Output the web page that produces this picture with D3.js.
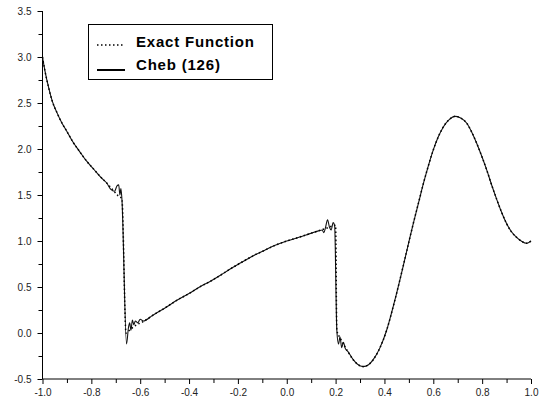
<!DOCTYPE html>
<html>
<head>
<meta charset="utf-8">
<script src="https://cdn.jsdelivr.net/npm/d3@7"></script>
<style>
  body { margin: 0; background: #fff; }
  svg { display: block; }
  .tick text { font-family: "Liberation Sans", Arial, sans-serif; font-size: 10px; fill: #222; }
</style>
</head>
<body>
<div id="chart"></div>
<script>
// exact function samples
const exactX = [-1.00, -0.99, -0.976, -0.96, -0.94, -0.92, -0.90, -0.874, -0.85, -0.82, -0.79, -0.76, -0.737, -0.71, -0.69, -0.675,
  -0.658, -0.64, -0.62, -0.587, -0.55, -0.50, -0.45, -0.40, -0.35, -0.314, -0.27, -0.235, -0.19, -0.137, -0.09, -0.05,
  0.00, 0.05, 0.095, 0.13, 0.163, 0.19, 0.20,
  0.205, 0.22, 0.25, 0.272, 0.29, 0.313, 0.335, 0.354, 0.38, 0.409, 0.44, 0.477, 0.50, 0.518, 0.54, 0.559, 0.58, 0.60,
  0.62, 0.641, 0.665, 0.689, 0.71, 0.737, 0.758, 0.778, 0.80, 0.819, 0.84, 0.86, 0.88, 0.90, 0.92, 0.941, 0.96, 0.982, 1.00]
const exactY = [3.00, 2.85, 2.68, 2.52, 2.39, 2.28, 2.19, 2.07, 1.98, 1.87, 1.78, 1.69, 1.63, 1.55, 1.49, 1.46,
  0.00, 0.04, 0.08, 0.125, 0.19, 0.27, 0.355, 0.43, 0.51, 0.56, 0.63, 0.69, 0.76, 0.84, 0.90, 0.95,
  1.00, 1.04, 1.08, 1.11, 1.14, 1.165, 1.17,
  0.03, -0.06, -0.20, -0.29, -0.34, -0.365, -0.345, -0.29, -0.17, 0.03, 0.33, 0.73, 0.99, 1.19, 1.42, 1.62, 1.82, 1.99,
  2.13, 2.24, 2.32, 2.355, 2.34, 2.28, 2.18, 2.06, 1.91, 1.77, 1.60, 1.45, 1.31, 1.19, 1.10, 1.04, 1.00, 0.975, 1.00]

// Chebyshev approximation (126 terms), with the ringing near the jumps
const chebX = [-1.00, -0.99, -0.976, -0.96, -0.94, -0.92, -0.90, -0.874, -0.85, -0.82, -0.79, -0.76, -0.737, -0.72, -0.705,
  -0.695, -0.688, -0.683, -0.679, -0.675,
  -0.656, -0.648, -0.643, -0.638, -0.632, -0.626, -0.62, -0.61, -0.60, -0.587, -0.55, -0.50, -0.45, -0.40, -0.35, -0.314,
  -0.27, -0.235, -0.19, -0.137, -0.09, -0.05, 0.00, 0.05, 0.095, 0.13, 0.145, 0.152, 0.158, 0.167, 0.175, 0.182, 0.19, 0.196,
  0.205, 0.212, 0.218, 0.225, 0.232, 0.24, 0.25, 0.272, 0.29, 0.313, 0.335, 0.354, 0.38, 0.409, 0.44, 0.477, 0.50, 0.518,
  0.54, 0.559, 0.58, 0.60, 0.62, 0.641, 0.665, 0.689, 0.71, 0.737, 0.758, 0.778, 0.80, 0.819, 0.84, 0.86, 0.88, 0.90,
  0.92, 0.941, 0.96, 0.982, 1.00]
const chebY = [3.00, 2.85, 2.68, 2.52, 2.39, 2.28, 2.19, 2.07, 1.98, 1.87, 1.78, 1.69, 1.63, 1.56, 1.54,
  1.60, 1.61, 1.50, 1.57, 1.46,
  -0.12, 0.06, 0.11, 0.03, 0.14, 0.09, 0.13, 0.11, 0.15, 0.13, 0.19, 0.27, 0.355, 0.43, 0.51, 0.56,
  0.63, 0.69, 0.76, 0.84, 0.90, 0.95, 1.00, 1.04, 1.08, 1.11, 1.12, 1.09, 1.14, 1.23, 1.15, 1.12, 1.20, 1.17,
  0.03, -0.12, -0.04, -0.16, -0.10, -0.17, -0.20, -0.29, -0.34, -0.365, -0.345, -0.29, -0.17, 0.03, 0.33, 0.73, 0.99, 1.19,
  1.42, 1.62, 1.82, 1.99, 2.13, 2.24, 2.32, 2.355, 2.34, 2.28, 2.18, 2.06, 1.91, 1.77, 1.60, 1.45, 1.31, 1.19,
  1.10, 1.04, 1.00, 0.975, 1.00]

const xTicks = [-1.0, -0.8, -0.6, -0.4, -0.2, 0.0, 0.2, 0.4, 0.6, 0.8, 1.0]
const xTickLabels = ["-1.0", "-0.8", "-0.6", "-0.4", "-0.2", "0.0", "0.2", "0.4", "0.6", "0.8", "1.0"]
const xMinor = [-0.9, -0.7, -0.5, -0.3, -0.1, 0.1, 0.3, 0.5, 0.7, 0.9]
const yTicks = [-0.5, 0.0, 0.5, 1.0, 1.5, 2.0, 2.5, 3.0, 3.5]
const yTickLabels = ["-0.5", "0.0", "0.5", "1.0", "1.5", "2.0", "2.5", "3.0", "3.5"]
const yMinor = [-0.25, 0.25, 0.75, 1.25, 1.75, 2.25, 2.75, 3.25]

const legendLabels = ["Exact Function", "Cheb (126)"]

let width = 540, height = 403

const svg = d3.select("div#chart").append("svg")
  .attr("width", width)
  .attr("height", height)

const x = d3.scaleLinear().domain([-1, 1]).range([42.5, 531])
const y = d3.scaleLinear().domain([-0.5, 3.5]).range([379, 11])

// axes: minor ticks first, then the labelled ones
svg.append("g")
  .attr("transform", "translate(0,379)")
  .call(d3.axisBottom(x).tickValues(xMinor).tickSize(4).tickFormat(""))
  .call(g => g.select(".domain").remove())
svg.append("g")
  .attr("transform", "translate(0,379)")
  .call(d3.axisBottom(x).tickValues(xTicks).tickSize(5).tickPadding(5)
    .tickFormat((d, i) => xTickLabels[i]))
  .call(g => g.select(".domain").attr("d", `M${x(-1)},0H${x(1)}`))

svg.append("g")
  .attr("transform", "translate(42.5,0)")
  .call(d3.axisLeft(y).tickValues(yMinor).tickSize(4).tickFormat(""))
  .call(g => g.select(".domain").remove())
svg.append("g")
  .attr("transform", "translate(42.5,0)")
  .call(d3.axisLeft(y).tickValues(yTicks).tickSize(5).tickPadding(6)
    .tickFormat((d, i) => yTickLabels[i]))
  .call(g => g.select(".domain").attr("d", `M0,${y(-0.5)}V${y(3.5)}`))

const line = d3.line()
  .x(d => x(d[0]))
  .y(d => y(d[1]))
  .curve(d3.curveMonotoneX)

svg.append("path")
  .datum(chebX.map((v, i) => [v, chebY[i]]))
  .attr("d", line)
  .attr("fill", "none")
  .attr("stroke", "#111")
  .attr("stroke-width", 1.1)

svg.append("path")
  .datum(exactX.map((v, i) => [v, exactY[i]]))
  .attr("d", line)
  .attr("fill", "none")
  .attr("stroke", "#000")
  .attr("stroke-width", 1.5)
  .attr("stroke-dasharray", "1.5,2.5")

// legend
const leg = svg.append("g")
leg.append("rect")
  .attr("x", 88.5).attr("y", 24.5)
  .attr("width", 184).attr("height", 55)
  .attr("fill", "#fff")
  .attr("stroke", "#000")

leg.append("line")
  .attr("x1", 97).attr("x2", 125).attr("y1", 45).attr("y2", 45)
  .attr("stroke", "#000").attr("stroke-width", 1.5)
  .attr("stroke-dasharray", "1.5,2.5")
leg.append("line")
  .attr("x1", 97).attr("x2", 125).attr("y1", 70).attr("y2", 70)
  .attr("stroke", "#000").attr("stroke-width", 2)

leg.selectAll("text")
  .data(legendLabels)
  .join("text")
  .attr("x", 136)
  .attr("y", (d, i) => 47 + i * 23)
  .style("font-family", "'Liberation Sans', Arial, sans-serif")
  .style("font-size", "15px")
  .style("font-weight", "bold")
  .style("letter-spacing", "0.8px")
  .text(d => d)
</script>
</body>
</html>
